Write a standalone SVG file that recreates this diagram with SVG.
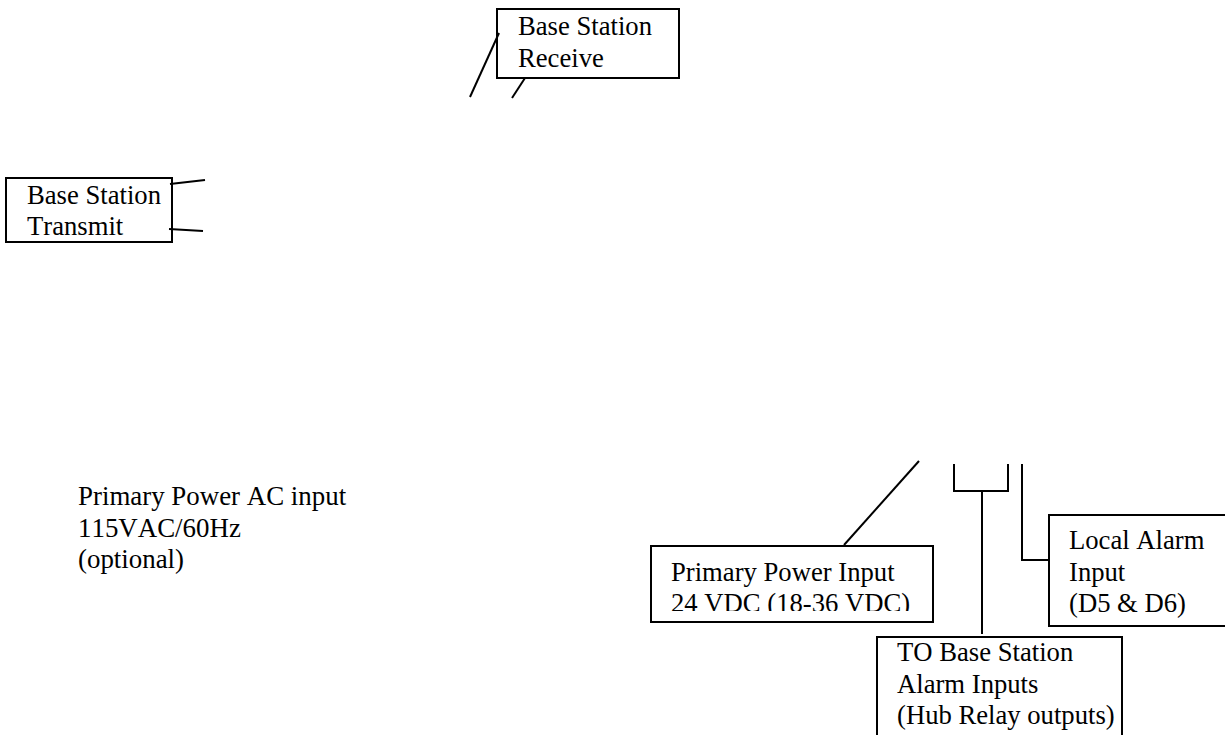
<svg xmlns="http://www.w3.org/2000/svg" width="1225" height="735" viewBox="0 0 1225 735">
<style>
.box{fill:#fff;stroke:#000;stroke-width:2}
.wire{fill:none;stroke:#000;stroke-width:2}
text{font-family:"Liberation Serif","Times New Roman",serif;font-size:26.67px;fill:#000;font-kerning:none}
#node-ac-input text{font-size:26.9px}
</style>
<defs>
<clipPath id="clipPrimary"><rect x="652" y="547" width="280" height="64"/></clipPath>
</defs>
<rect width="1225" height="735" fill="#fff"/>
<g id="node-receive">
<rect class="box" x="497" y="9" width="182" height="69"/>
<text x="518" y="35">Base Station</text>
<text x="518" y="67">Receive</text>
</g>
<g id="node-transmit">
<rect class="box" x="6" y="178" width="166" height="64"/>
<text x="27" y="204">Base Station</text>
<text x="27" y="235">Transmit</text>
</g>
<g id="node-ac-input">
<text x="78" y="505">Primary Power AC input</text>
<text x="78" y="537">115VAC/60Hz</text>
<text x="78" y="568">(optional)</text>
</g>
<g id="node-primary-power">
<rect class="box" x="651" y="546" width="282" height="76"/>
<g clip-path="url(#clipPrimary)">
<text x="671" y="581">Primary Power Input</text>
<text x="671" y="612">24 VDC (18-36 VDC)</text>
</g>
</g>
<g id="node-local-alarm">
<rect class="box" x="1049" y="515" width="190" height="111"/>
<text x="1069" y="549">Local Alarm</text>
<text x="1069" y="581">Input</text>
<text x="1069" y="612">(D5 &amp; D6)</text>
</g>
<g id="node-hub-relay">
<rect class="box" x="877" y="637" width="245" height="110"/>
<text x="897" y="661">TO Base Station</text>
<text x="897" y="693">Alarm Inputs</text>
<text x="897" y="724">(Hub Relay outputs)</text>
</g>
<g id="connectors">
<path class="wire" d="M499 33L470 97"/>
<path class="wire" d="M525 78L512 98"/>
<path class="wire" d="M170 184L205 180"/>
<path class="wire" d="M169 229L203 231"/>
<path class="wire" d="M919 461L844 545"/>
<path class="wire" d="M954 464V491H1008V464"/>
<path class="wire" d="M982 491V634"/>
<path class="wire" d="M1022 464V560H1049"/>
</g>
</svg>
